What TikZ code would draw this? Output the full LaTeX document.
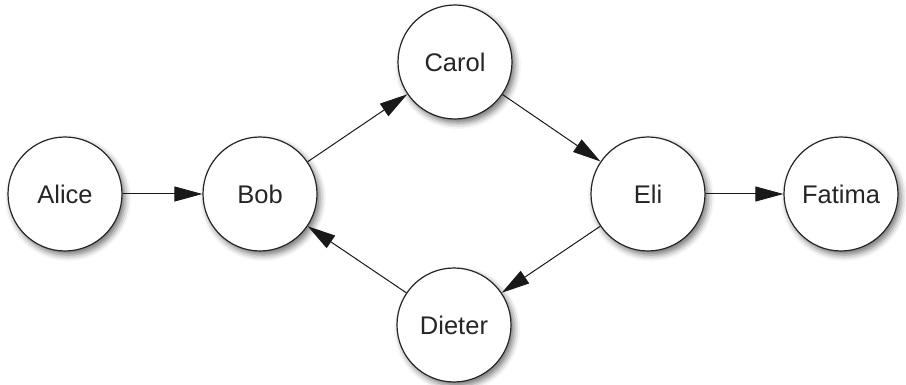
\documentclass[tikz,border=0pt]{standalone}
\usepackage{fontspec}
\setmainfont{Liberation Sans}
\usetikzlibrary{arrows.meta,shadows.blur}
\begin{document}
\begin{tikzpicture}[x=1pt,y=-1pt,
  person/.style={circle,draw=black!85,line width=1.2pt,fill=white,minimum size=114pt,inner sep=0pt,
    font=\fontsize{25.5}{30}\selectfont,text=black!85,
    blur shadow={shadow xshift=3pt,shadow yshift=-4pt,shadow blur radius=6pt,shadow opacity=55}},
  link/.style={line width=1pt,draw=black!90,-{Triangle[length=28pt,width=15pt]}}]
\useasboundingbox (0,0) rectangle (906,385);
\node[person] (alice) at (65,194) {Alice};
\node[person] (bob) at (260,194) {Bob};
\node[person] (carol) at (455,62) {Carol};
\node[person] (dieter) at (454,325) {Dieter};
\node[person] (eli) at (648,194) {Eli};
\node[person] (fatima) at (841,194) {Fatima};
\draw[link] (alice) -- (bob);
\draw[link] (bob) -- (carol);
\draw[link] (carol) -- (eli);
\draw[link] (eli) -- (fatima);
\draw[link] (eli) -- (dieter);
\draw[link] (dieter) -- (bob);
\end{tikzpicture}
\end{document}
